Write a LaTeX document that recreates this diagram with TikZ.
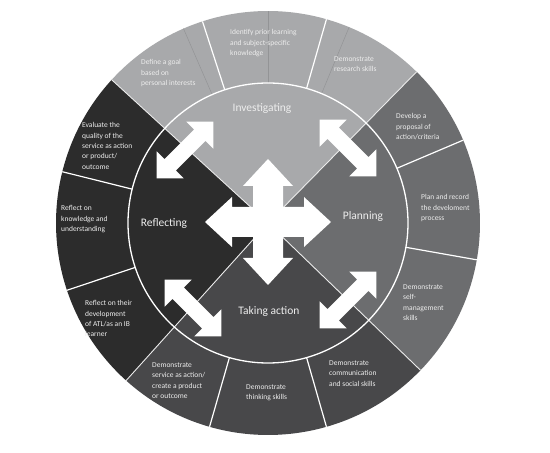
\documentclass[tikz,border=0pt]{standalone}
\usepackage{fontspec}
\setmainfont{Carlito}
\definecolor{qtop}{HTML}{A8A9AB}
\definecolor{qright}{HTML}{6C6D6F}
\definecolor{qbottom}{HTML}{48484A}
\definecolor{qleft}{HTML}{2C2C2C}
\definecolor{qfaint}{HTML}{939496}
\definecolor{labeltext}{HTML}{EDEDED}
\begin{document}
\begin{tikzpicture}[x=1pt,y=1pt,
  seglabel/.style={font=\fontsize{7.5}{10.3}\selectfont, text=labeltext, align=left, anchor=north west, inner sep=0pt},
  quadlabel/.style={font=\fontsize{11.5}{13}\selectfont, text=labeltext, inner sep=0pt, anchor=base},
  ringline/.style={white, line width=1.2pt},
  diagline/.style={white!92!black, line width=0.9pt},
  faintline/.style={qfaint, line width=0.5pt},
  dblarrow/.pic={\fill[white] (-40,0) -- (-21,19) -- (-21,8) -- (21,8) -- (21,19) -- (40,0) -- (21,-19) -- (21,-8) -- (-21,-8) -- (-21,-19) -- cycle;}]
\useasboundingbox (0,0) rectangle (550,453);
\fill[white] (0,0) rectangle (550,453);
\coordinate (C) at (268,230);
\def\Ro{212}
\def\Ri{140}
% quadrants
\fill[qtop] (C) -- ++(45.5:\Ro) arc[start angle=45.5, end angle=137.5, radius=\Ro] -- cycle;
\fill[qleft] (C) -- ++(137.5:\Ro) arc[start angle=137.5, end angle=228, radius=\Ro] -- cycle;
\fill[qbottom] (C) -- ++(228:\Ro) arc[start angle=228, end angle=316, radius=\Ro] -- cycle;
\fill[qright] (C) -- ++(316:\Ro) arc[start angle=316, end angle=405.5, radius=\Ro] -- cycle;
% faint lines
\foreach \a in {67.5,90,113.5}
  \draw[faintline] ([shift={(\a:\Ri)}]C) -- ([shift={(\a:\Ro)}]C);
% segment lines
\foreach \a in {108,74,23,-10,-74,-106,166,198.5}
  \draw[ringline] ([shift={(\a:\Ri)}]C) -- ([shift={(\a:\Ro)}]C);
% quadrant diagonals
\foreach \a in {45.5,137.5,228,316}
  \draw[diagline] (C) -- ([shift={(\a:\Ro)}]C);
% inner circle
\draw[white, line width=1.3pt] (C) circle[radius=\Ri];
% central cross
\fill[white, shift={(268,231)}] (15,15) -- (15,36) -- (25,36) -- (0,63) -- (-25,36) -- (-15,36) -- (-15,15)
  -- (-36,15) -- (-36,25) -- (-63,0) -- (-36,-25) -- (-36,-15) -- (-15,-15)
  -- (-15,-36) -- (-25,-36) -- (0,-63) -- (25,-36) -- (15,-36) -- (15,-15)
  -- (36,-15) -- (36,-25) -- (63,0) -- (36,25) -- (36,15) -- cycle;
% diagonal double arrows
\pic[rotate=45] at (185,303) {dblarrow};
\pic[rotate=-45] at (348,305) {dblarrow};
\pic[rotate=-45] at (193,145) {dblarrow};
\pic[rotate=45] at (348,153) {dblarrow};
% quadrant labels
\node[quadlabel] (inv) at (262,341) {Investigating};
\node[quadlabel] (plan) at (363,233) {Planning};
\node[quadlabel] (refl) at (164,226) {Reflecting};
\node[quadlabel] (take) at (269,138) {Taking action};
% segment labels
\node[seglabel] (s1) at (141,393.5) {Define a goal\\based on\\personal interests};
\node[seglabel] (s2) at (230,423.5) {Identify prior learning\\and subject-specific\\knowledge};
\node[seglabel] (s3) at (334,396.5) {Demonstrate\\research skills};
\node[seglabel] (s4) at (396,339.5) {Develop a\\proposal of\\action/criteria};
\node[seglabel] (s5) at (421,258.5) {Plan and record\\the develoment\\process};
\node[seglabel] (s6) at (403,168.5) {Demonstrate\\self-\\management\\skills};
\node[seglabel] (s7) at (329,92.5) {Demonstrate\\communication\\and social skills};
\node[seglabel] (s8) at (246,68.5) {Demonstrate\\thinking skills};
\node[seglabel] (s9) at (152,90.5) {Demonstrate\\service as action/\\create a product\\or outcome};
\node[seglabel] (s10) at (85,152.5) {Reflect on their\\development\\of ATL/as an IB\\learner};
\node[seglabel] (s11) at (61,247.5) {Reflect on\\knowledge and\\understanding};
\node[seglabel] (s12) at (82,330.5) {Evaluate the\\quality of the\\service as action\\or product/\\outcome};
\end{tikzpicture}
\end{document}
